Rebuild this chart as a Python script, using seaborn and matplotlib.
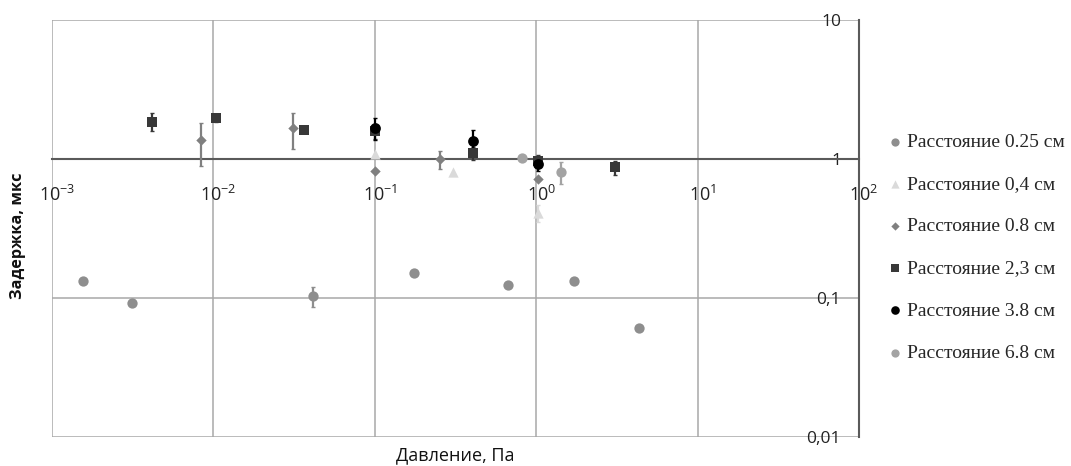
import seaborn as sns
import matplotlib.pyplot as plt
import matplotlib.ticker as mticker
import matplotlib.transforms as mtrans
import numpy as np
import pandas as pd

# данные (давление, Па ; задержка, мкс)
p_025 = [0.00156, 0.00313, 0.0414, 0.175, 0.668, 1.71, 4.34]
t_025 = [0.132, 0.092, 0.103, 0.151, 0.124, 0.132, 0.061]
e_025 = [0, 0, 0.017, 0, 0, 0, 0]

p_04 = [0.1, 0.305, 1.03]
t_04 = [1.08, 0.80, 0.41]
e_04 = [0, 0, 0.06]

p_08 = [0.0084, 0.0311, 0.1, 0.253, 1.03]
t_08 = [1.36, 1.66, 0.82, 1.0, 0.72]
e_08 = [0.47, 0.48, 0, 0.15, 0]

p_23 = [0.00415, 0.0104, 0.0364, 0.1, 0.407, 1.03, 3.08]
t_23 = [1.86, 1.96, 1.61, 1.59, 1.10, 0.97, 0.87]
e_23 = [0.27, 0.1, 0.08, 0.2, 0.12, 0.1, 0.1]

p_38 = [0.1, 0.407, 1.03]
t_38 = [1.68, 1.35, 0.92]
e_38 = [0.3, 0.28, 0.1]

p_68 = [0.817, 1.43]
t_68 = [1.02, 0.806]
e_68 = [0.05, 0.14]

series = [
    ("Расстояние 0.25 см", p_025, t_025, e_025, "o", "#8e8e8e", 55),
    ("Расстояние 0,4 см", p_04, t_04, e_04, "^", "#dadada", 55),
    ("Расстояние 0.8 см", p_08, t_08, e_08, "D", "#808080", 28),
    ("Расстояние 2,3 см", p_23, t_23, e_23, "s", "#383838", 60),
    ("Расстояние 3.8 см", p_38, t_38, e_38, "o", "#000000", 60),
    ("Расстояние 6.8 см", p_68, t_68, e_68, "o", "#a3a3a3", 55),
]

sns.set_style("white")
plt.rcParams['font.family'] = ['Open Sans', 'DejaVu Sans']

fig = plt.figure(figsize=(10.71, 4.66), dpi=100)
ax = fig.add_axes([52/1071, 29/466, (859-52)/1071, (437-20)/466])

for nombre, px, py, pe, mk, col, sz in series:
    df = pd.DataFrame({"p": px, "t": py, "e": pe})
    err = df[df.e > 0]
    if len(err):
        ax.errorbar(err.p, err.t, yerr=err.e, fmt="none", ecolor=col,
                    elinewidth=1.6, capsize=1.5, zorder=3)
    sns.scatterplot(data=df, x="p", y="t", marker=mk, color=col, s=sz,
                    edgecolor=col, linewidth=0, label=nombre, ax=ax, zorder=4)

ax.set_xscale("log")
ax.set_yscale("log")
ax.set_xlim(1e-3, 1e2)
ax.set_ylim(0.01, 10)

# оси пересекаются в точке (100, 1)
ax.spines["left"].set_position(("data", 100))
ax.spines["bottom"].set_position(("data", 1))
ax.spines["top"].set_visible(False)
ax.spines["right"].set_visible(False)
for s in ["left", "bottom"]:
    ax.spines[s].set_color("#5a5a5a")
    ax.spines[s].set_linewidth(1.5)
    ax.spines[s].set_zorder(2)

ax.set_xticks([1e-3, 1e-2, 1e-1, 1e0, 1e1, 1e2])
ax.xaxis.set_minor_locator(mticker.NullLocator())
ax.set_yticks([0.01, 0.1, 1, 10])
ax.set_yticklabels(["0,01", "0,1", "1", "10"])
ax.yaxis.set_minor_locator(mticker.LogLocator(base=10, subs=np.arange(2, 10)))
ax.yaxis.set_minor_formatter(mticker.NullFormatter())

ax.tick_params(axis="x", which="major", direction="out", length=5, width=1.2,
               color="#5a5a5a", pad=14, labelsize=13, labelcolor="#222222")
ax.tick_params(axis="y", which="both", direction="out", length=5, width=1.2,
               color="#5a5a5a", pad=8, labelsize=12.5, labelcolor="#222222")

# сдвиг подписей 10^n, чтобы "10" стояло над делением
sdvig = mtrans.ScaledTranslation(0.05, 0, fig.dpi_scale_trans)
for lab in ax.get_xticklabels():
    lab.set_transform(lab.get_transform() + sdvig)

ax.grid(True, which="major", color="#a8a8a8", linewidth=1.1)
ax.set_axisbelow(True)
ax.set_xlabel("")
ax.set_ylabel("")

fig.text(18/1071, 230/466, "Задержка, мкс", rotation=90, ha="center", va="center",
         fontsize=11.7, fontweight="bold", color="#111111")
fig.text(455/1071, 1 - 455/466, "Давление, Па", ha="center", va="center",
         fontsize=13, color="#111111")

ax.legend_.remove()
h, l = ax.get_legend_handles_labels()
fig.legend(h, l, loc="upper left", bbox_to_anchor=(868/1071, 1 - 116/466),
           frameon=False, labelspacing=1.26, handletextpad=0.1, handlelength=1.0,
           markerscale=0.8, prop={"family": "Liberation Serif", "size": 14})

plt.savefig("out.png", dpi=100)
